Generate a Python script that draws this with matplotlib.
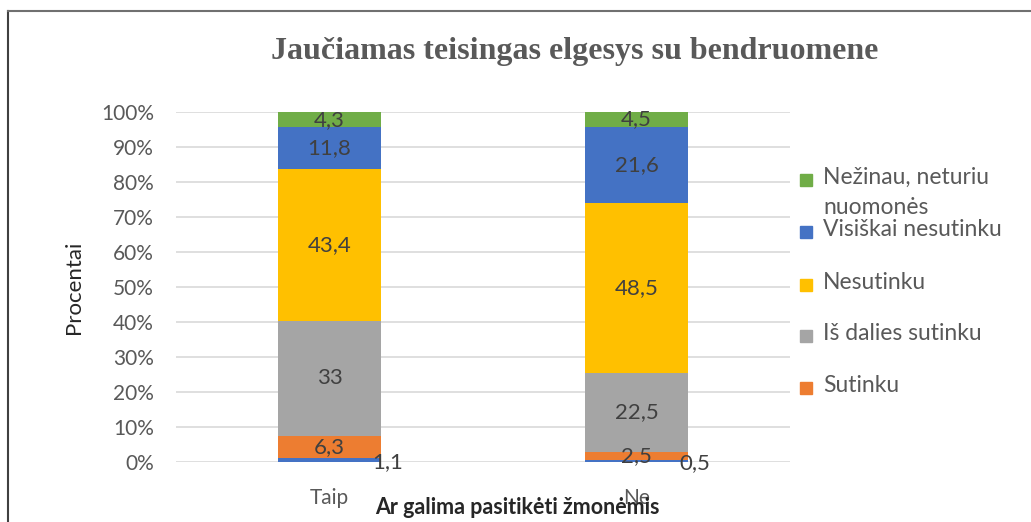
import matplotlib
matplotlib.use("Agg")
import matplotlib.pyplot as plt
from matplotlib.patches import Rectangle
from matplotlib.lines import Line2D

categories = ["Taip", "Ne"]
series_names = ["Visiškai sutinku", "Sutinku", "Iš dalies sutinku", "Nesutinku",
                "Visiškai nesutinku", "Nežinau, neturiu\nnuomonės"]
visiskai_sutinku = [1.1, 0.5]
sutinku = [6.3, 2.5]
is_dalies = [33, 22.5]
nesutinku = [43.4, 48.5]
visiskai_nesutinku = [11.8, 21.6]
nezinau = [4.3, 4.5]
colors = ["#4472C4", "#ED7D31", "#A5A5A5", "#FFC000", "#4472C4", "#70AD47"]
legend_order = [5, 4, 3, 2, 1]

series = [visiskai_sutinku, sutinku, is_dalies, nesutinku, visiskai_nesutinku, nezinau]

W, H = 1031, 522
fig = plt.figure(figsize=(W / 100, H / 100), dpi=100)
ax = fig.add_axes([176 / W, 1 - 462 / H, (790 - 176) / W, (462 - 112) / H])

txt = "#595959"
lab = "#404040"
font = "Lato"

x = list(range(len(categories)))
bottoms = [0.0] * len(categories)
for i, vals in enumerate(series):
    ax.bar(x, vals, 0.335, bottom=bottoms, color=colors[i], zorder=3)
    for j, v in enumerate(vals):
        s = f"{v:g}".replace(".", ",")
        if i == 0:
            ax.text(x[j] + 0.14, bottoms[j] + v / 2 - 0.6, s,
                    ha="left", va="center", fontsize=16, color=lab, family=font, zorder=5)
        else:
            ax.text(x[j], bottoms[j] + v / 2, s,
                    ha="center", va="center", fontsize=16, color=lab, family=font, zorder=5)
    bottoms = [b + v for b, v in zip(bottoms, vals)]

ax.set_xlim(-0.5, 1.5)
ax.set_ylim(0, 100)
ax.set_yticks(range(0, 101, 10))
ax.set_yticklabels([f"{t}%" for t in range(0, 101, 10)], family=font, fontsize=15, color=txt)
ax.set_xticks(x)
ax.set_xticklabels(categories, family=font, fontsize=15, color=txt)
ax.tick_params(length=0)
ax.tick_params(axis="y", pad=16)
ax.tick_params(axis="x", pad=19)
ax.yaxis.grid(True, color="#D9D9D9", lw=1.2, zorder=0)
for s in ax.spines.values():
    s.set_visible(False)

ax.set_ylabel("Procentai", family=font, fontsize=16, color="#262626", labelpad=12)
fig.text(517 / W, 1 - 508 / H, "Ar galima pasitikėti žmonėmis", ha="center", va="center",
         family=font, fontsize=15.5, fontweight="bold", color="#262626")
fig.text(575 / W, 1 - 52 / H, "Jaučiamas teisingas elgesys su bendruomene", ha="center",
         va="center", family="Liberation Serif", fontsize=23, fontweight="bold", color=txt)

# legend
leg_y = [180, 232, 285, 336, 388]
for k, idx in enumerate(legend_order):
    yy = leg_y[k]
    fig.patches.append(Rectangle(((806 - 6) / W, 1 - (yy + 6) / H), 12 / W, 12 / H,
                                 transform=fig.transFigure, color=colors[idx]))
    fig.text(823 / W, 1 - (yy - 13) / H, series_names[idx], ha="left", va="top",
             family=font, fontsize=16.5, color=txt, linespacing=1.5)

# frame
fig.add_artist(Line2D([8 / W, 8 / W], [0, 1 - 10.5 / H], transform=fig.transFigure,
                      color="#404040", lw=1.5))
fig.add_artist(Line2D([8 / W, 1], [1 - 10.5 / H, 1 - 10.5 / H], transform=fig.transFigure,
                      color="#707070", lw=1.5))

fig.savefig("out.png", dpi=100)
